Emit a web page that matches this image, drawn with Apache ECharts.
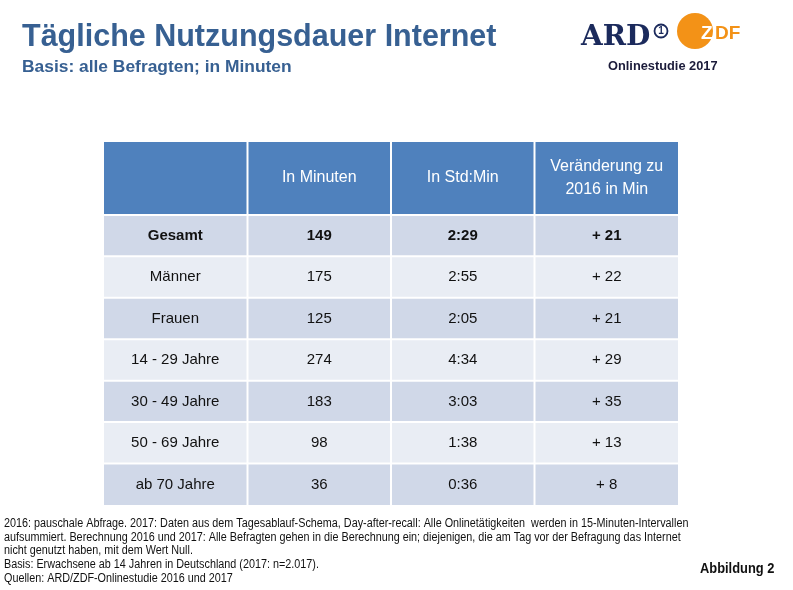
<!DOCTYPE html>
<html><head><meta charset="utf-8">
<script src="https://cdn.jsdelivr.net/npm/echarts@6/dist/echarts.min.js"></script>
<style>html,body{margin:0;padding:0;background:#fff}#c{width:793px;height:590px}</style>
</head><body><div id="c"></div>
<script>
const headers = ['', 'In Minuten', 'In Std:Min', 'Veränderung zu\n2016 in Min'];
const rowLabels = ['Gesamt', 'Männer', 'Frauen', '14 - 29 Jahre', '30 - 49 Jahre', '50 - 69 Jahre', 'ab 70 Jahre'];
const minutes = [149, 175, 125, 274, 183, 98, 36];
const stdMin = ['2:29', '2:55', '2:05', '4:34', '3:03', '1:38', '0:36'];
const change = ['+ 21', '+ 22', '+ 21', '+ 29', '+ 35', '+ 13', '+ 8'];
const footnotes = [
  '2016: pauschale Abfrage. 2017: Daten aus dem Tagesablauf-Schema, Day-after-recall: Alle Onlinetätigkeiten  werden in 15-Minuten-Intervallen',
  'aufsummiert. Berechnung 2016 und 2017: Alle Befragten gehen in die Berechnung ein; diejenigen, die am Tag vor der Befragung das Internet',
  'nicht genutzt haben, mit dem Wert Null.',
  'Basis: Erwachsene ab 14 Jahren in Deutschland (2017: n=2.017).',
  'Quellen: ARD/ZDF-Onlinestudie 2016 und 2017'
];

const HEAD = -1.76;
const cells = [];
headers.forEach((h, c) => cells.push([c, HEAD, h, -1]));
rowLabels.forEach((lab, r) => {
  const vals = [lab, String(minutes[r]), stdMin[r], change[r]];
  vals.forEach((v, c) => cells.push([c, r, v, r]));
});

const chart = echarts.init(document.getElementById('c'), null, {renderer: 'canvas'});
const sans = '"Liberation Sans",Arial,sans-serif';
const navy = '#376092';
const orange = '#f39217';

chart.setOption({
  animation: false,
  backgroundColor: '#fff',
  grid: {left: 104, right: 115, top: 142, bottom: 85},
  xAxis: {type: 'value', min: 0, max: 4, show: false},
  yAxis: {type: 'value', min: HEAD, max: 7, inverse: true, show: false},
  series: [{
    type: 'custom',
    data: cells,
    renderItem: function (params, api) {
      const c = api.value(0), r = api.value(1), rowIdx = api.value(3);
      const isHead = rowIdx < 0;
      const p0 = api.coord([c, r]);
      const p1 = api.coord([c + 1, isHead ? 0 : r + 1]);
      const x = p0[0] + (c === 0 ? 0 : 1), y = p0[1] + (isHead ? 0 : 1);
      const w = p1[0] - p0[0] - (c === 0 ? 1 : (c === 3 ? 1 : 2));
      const h = p1[1] - p0[1] - (isHead ? 1 : (rowIdx === 6 ? 1 : 2));
      const fill = isHead ? '#4f81bd' : (rowIdx % 2 === 0 ? '#d0d8e8' : '#e9edf4');
      const txt = cells[params.dataIndex][2];
      return {
        type: 'group',
        children: [
          {type: 'rect', shape: {x: x, y: y, width: w, height: h}, style: {fill: fill}},
          {type: 'text', x: x + w / 2, y: y + h / 2, style: {
            text: txt, align: 'center', verticalAlign: 'middle',
            fill: isHead ? '#ffffff' : '#111111',
            font: (rowIdx === 0 ? 'bold ' : '') + (isHead ? '16px ' : '15px ') + sans,
            lineHeight: 23
          }}
        ]
      };
    }
  }],
  graphic: [
    {type: 'text', left: 22, top: 22, style: {text: 'Tägliche Nutzungsdauer Internet', fill: navy, font: 'bold 30.5px ' + sans}},
    {type: 'text', left: 22, top: 59, style: {text: 'Basis: alle Befragten; in Minuten', fill: navy, font: 'bold 17.4px ' + sans}},
    // ARD logo
    {type: 'text', left: 581, top: 24, style: {text: 'ARD', fill: '#1b2a5c', font: 'bold 28px "DejaVu Serif","Liberation Serif",serif'}},
    {type: 'circle', shape: {cx: 661, cy: 31, r: 6.5}, style: {fill: '#fff', stroke: '#1b2a5c', lineWidth: 1.8}},
    {type: 'text', x: 661, y: 31, style: {text: '1', align: 'center', verticalAlign: 'middle', fill: '#1b2a5c', font: 'bold 10px ' + sans}},
    // ZDF logo
    {type: 'circle', shape: {cx: 695, cy: 31, r: 18}, style: {fill: orange}},
    {type: 'text', x: 701, y: 24, style: {text: 'Z', fill: '#ffffff', font: 'bold 19px ' + sans}},
    {type: 'text', x: 715, y: 24, style: {text: 'DF', fill: orange, font: 'bold 19px ' + sans}},
    {type: 'text', left: 608, top: 60, style: {text: 'Onlinestudie 2017', fill: '#1b1b3a', font: 'bold 12.8px ' + sans}},
    // footnotes
    {type: 'text', x: 4, y: 517, scaleX: 0.9, style: {text: footnotes.join('\n'), fill: '#111', font: '12px ' + sans, lineHeight: 13.6}},
    {type: 'text', x: 700, y: 562, scaleX: 0.92, style: {text: 'Abbildung 2', fill: '#111', font: 'bold 14px ' + sans}}
  ]
});
</script></body></html>
